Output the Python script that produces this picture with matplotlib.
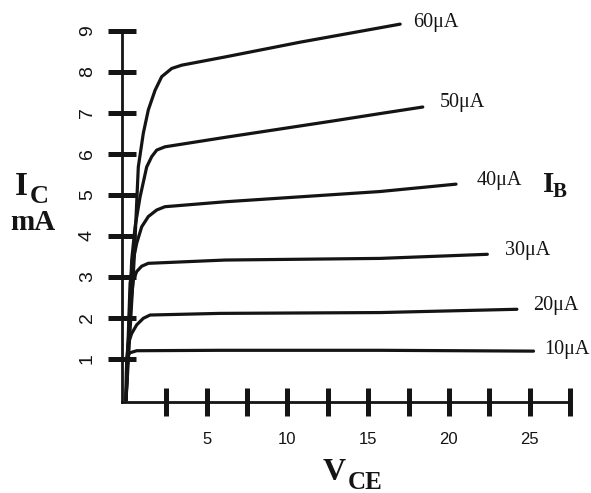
import matplotlib
matplotlib.use("Agg")
import matplotlib.pyplot as plt

# ---- data ----
ib_labels = ["60\u03bcA", "50\u03bcA", "40\u03bcA", "30\u03bcA", "20\u03bcA", "10\u03bcA"]

vce_60 = [0, 0.25, 0.50, 0.76, 1.07, 1.38, 1.80, 2.21, 2.83, 3.45, 6.13, 10.78, 16.98]
ic_60 = [0, 1.70, 3.41, 5.68, 6.50, 7.07, 7.55, 7.88, 8.08, 8.16, 8.36, 8.72, 9.16]

vce_50 = [0, 0.35, 0.56, 0.87, 1.28, 1.59, 1.90, 2.41, 6.13, 12.82, 15.74, 18.38]
ic_50 = [0, 3.41, 4.22, 4.95, 5.68, 5.93, 6.09, 6.17, 6.40, 6.80, 6.98, 7.14]

vce_40 = [0, 0.25, 0.45, 0.66, 0.97, 1.38, 1.90, 2.41, 6.13, 15.73, 20.44]
ic_40 = [0, 2.84, 3.41, 3.82, 4.22, 4.47, 4.63, 4.71, 4.83, 5.08, 5.26]

vce_30 = [0, 0.18, 0.35, 0.45, 0.66, 0.97, 1.38, 6.13, 15.73, 22.38]
ic_30 = [0, 1.70, 2.56, 2.92, 3.13, 3.26, 3.33, 3.41, 3.45, 3.55]

vce_20 = [0, 0.05, 0.14, 0.35, 0.66, 1.07, 1.49, 5.82, 15.74, 24.21]
ic_20 = [0, 1.05, 1.38, 1.62, 1.83, 1.99, 2.07, 2.11, 2.13, 2.21]

vce_10 = [0, 0.02, 0.05, 0.12, 0.25, 0.66, 5.82, 15.74, 25.24]
ic_10 = [0, 0.70, 1.00, 1.09, 1.15, 1.20, 1.21, 1.21, 1.19]

x_ticks = [2.5, 5, 7.5, 10, 12.5, 15, 17.5, 20, 22.5, 25, 27.5]
x_tick_labels = ["", "5", "", "10", "", "15", "", "20", "", "25", ""]
y_ticks = [1, 2, 3, 4, 5, 6, 7, 8, 9]
y_tick_labels = ["1", "2", "3", "4", "5", "6", "7", "8", "9"]

# label anchor positions (left edge, vertical centre) in data units
label_x = [17.78, 19.45, 21.69, 23.48, 25.22, 25.90]
label_y = [9.21, 7.24, 5.36, 3.65, 2.29, 1.22]

# ---- figure ----
W, H = 591, 493
fig = plt.figure(figsize=(W / 100, H / 100), dpi=100)
ax = fig.add_axes([122 / W, (H - 402) / H, 448 / W, 371.3 / H])

ink = "#141414"
curves = [(vce_60, ic_60), (vce_50, ic_50), (vce_40, ic_40),
          (vce_30, ic_30), (vce_20, ic_20), (vce_10, ic_10)]
for xs, ys in curves:
    ax.plot(xs, ys, color=ink, lw=2.3, solid_joinstyle="round",
            solid_capstyle="round", clip_on=False)

serif = "Liberation Serif"
for lab, lx, ly in zip(ib_labels, label_x, label_y):
    ax.text(lx, ly, lab, fontsize=14.5, family=serif, color=ink,
            ha="left", va="center")

ax.set_xlim(-0.25, 27.5)
ax.set_ylim(-0.05, 9)

for s in ["top", "right"]:
    ax.spines[s].set_visible(False)
for s in ["left", "bottom"]:
    ax.spines[s].set_linewidth(2.0)
    ax.spines[s].set_color(ink)
ax.spines["left"].set_bounds(-0.05, 9)

ax.set_xticks(x_ticks)
ax.set_xticklabels(x_tick_labels)
ax.set_yticks(y_ticks)
ax.set_yticklabels(y_tick_labels, rotation=90, va="center")
ax.tick_params(axis="both", direction="inout", length=19.5, width=3.6,
               color=ink, labelcolor=ink)
ax.tick_params(axis="x", pad=12, labelsize=12)
ax.tick_params(axis="y", pad=9, labelsize=14)
for t in ax.get_xticklabels() + ax.get_yticklabels():
    t.set_family("Liberation Sans")

# axis titles
fig.text(15 / W, 1 - 195 / H, "I", fontsize=24, family=serif,
         fontweight="bold", color=ink, ha="left", va="baseline")
fig.text(30 / W, 1 - 203 / H, "C", fontsize=19, family=serif,
         fontweight="bold", color=ink, ha="left", va="baseline")
fig.text(10 / W, 1 - 230 / H, "mA", fontsize=21, family=serif,
         fontweight="bold", color=ink, ha="left", va="baseline")

fig.text(323 / W, 1 - 480 / H, "V", fontsize=23, family=serif,
         fontweight="bold", color=ink, ha="left", va="baseline")
fig.text(348 / W, 1 - 489 / H, "CE", fontsize=18, family=serif,
         fontweight="bold", color=ink, ha="left", va="baseline")

ax.text(25.84, 5.24, "I", fontsize=21, family=serif, fontweight="bold",
        color=ink, ha="left", va="center")
fig.text(553 / W, 1 - 197 / H, "B", fontsize=15, family=serif,
         fontweight="bold", color=ink, ha="left", va="baseline")

fig.savefig("out.png", dpi=100)
